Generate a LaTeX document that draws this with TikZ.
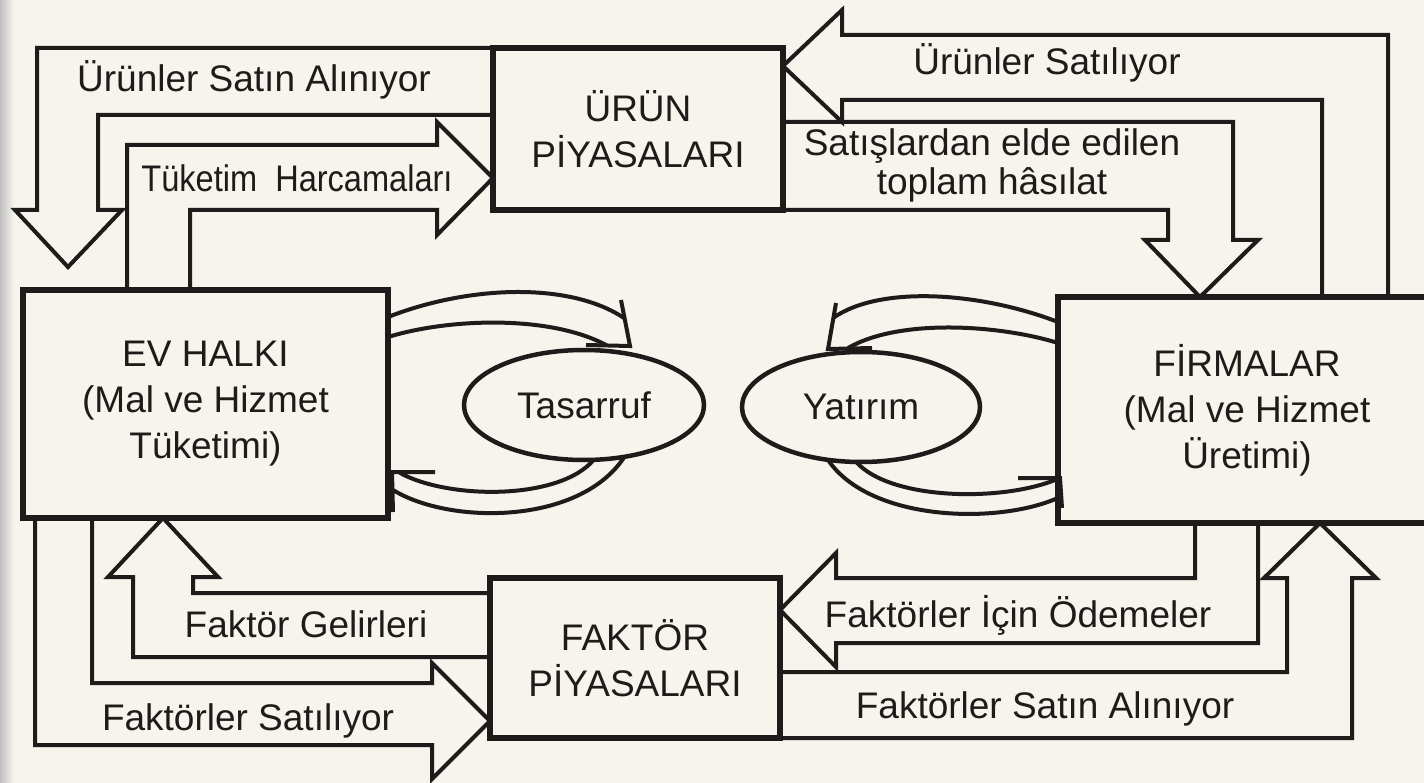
\documentclass[tikz,border=0pt]{standalone}
\usepackage{fontspec}
\setmainfont{Liberation Sans}
\usetikzlibrary{shapes.geometric}
\definecolor{paper}{RGB}{247,244,237}
\definecolor{ink}{RGB}{30,28,26}

\begin{document}
\begin{tikzpicture}[x=1pt,y=-1pt,
		box/.style={draw=ink,line width=5.5pt,outer sep=0pt,fill=paper,text=ink,align=center,font=\fontsize{37}{46}\selectfont},
		oval/.style={draw=ink,line width=4.5pt,outer sep=0pt,ellipse,inner sep=0pt,text=ink,font=\fontsize{37}{44}\selectfont},
		flow/.style={draw=ink,line width=4pt,line join=miter},
		lbl/.style={anchor=base,inner sep=0pt,text=ink,font=\fontsize{37}{44}\selectfont}]
	\useasboundingbox (0,0) rectangle (1424,783);
	\fill[paper] (0,0) rectangle (1424,783);
	\shade[left color=black!25,right color=paper] (0,0) rectangle (14,783);
	\clip (0,0) rectangle (1424,783);

	\node[box,minimum width=290pt,minimum height=162pt] (urun) at (638,129) {ÜRÜN\\PİYASALARI};
	\node[box,minimum width=365pt,minimum height=228pt] (ev) at (205.5,404) {EV HALKI\\(Mal ve Hizmet\\Tüketimi)};
	\node[box,minimum width=378pt,minimum height=226pt] (firma) at (1247,410) {FİRMALAR\\(Mal ve Hizmet\\Üretimi)};
	\node[box,minimum width=290pt,minimum height=160pt] (faktor) at (635,658) {FAKTÖR\\PİYASALARI};
	\node[oval,minimum width=240pt,minimum height=110pt] (tas) at (584,405) {Tasarruf};
	\node[oval,minimum width=238pt,minimum height=110pt] (yat) at (861,407) {Yatırım};

	\draw[flow] (urun.north west) -| (37,210) -- (15,210) -- (68,267) -- (122,210) -- (98,210) |- (urun.west |- 0,115);
	\draw[flow] (ev.north -| 127,0) |- (437,145) -- (437,122) -- (urun.west |- 0,178) -- (437,235) -- (437,210) -| (ev.north -| 190,0);
	\draw[flow] (firma.north -| 1388,0) |- (842,35) -- (842,10) -- (urun.east |- 0,66) -- (842,122) -- (842,100) -| (firma.north -| 1322,0);
	\draw[flow] (urun.east |- 0,122) -| (1233,240) -- (1258,240) -- (firma.north -| 1200,0) -- (1145,240) -- (1168,240) |- (urun.south east);
	\draw[flow] (faktor.west |- 0,593) -| (193,577) -- (218,577) -- (ev.south -| 163,0) -- (108,577) -- (133,577) |- (faktor.west |- 0,657);
	\draw[flow] (ev.south -| 92,0) |- (432,683) -- (432,663) -- (faktor.west |- 0,721) -- (432,779) -- (432,745) -| (ev.south -| 35,0);
	\draw[flow] (firma.south -| 1195,0) |- (836,578) -- (836,553) -- (faktor.east |- 0,610) -- (836,667) -- (836,643) -| (firma.south -| 1258,0);
	\draw[flow] (faktor.east |- 0,672) -| (1287,578) -- (1264,578) -- (firma.south -| 1320,0) -- (1376,578) -- (1352,578) |- (faktor.south east);

	\draw[flow] (ev.east |- 0,317) .. controls (470,285) and (570,282) .. (624,318);
	\draw[flow] (ev.east |- 0,337) .. controls (450,318) and (550,315) .. (606,345);
	\draw[flow] (586,345) -- (630,346) -- (621,300);
	\draw[flow] (tas.-80) .. controls (560,500) and (450,500) .. (400,473);
	\draw[flow] (tas.-52) .. controls (580,525) and (450,525) .. (393,490);
	\draw[flow] (435,472) -- (392,472) -- (393,512);

	\draw[flow] (firma.west |- 0,322) .. controls (980,292) and (880,285) .. (833,318);
	\draw[flow] (firma.west |- 0,343) .. controls (1000,325) and (900,318) .. (848,348);
	\draw[flow] (872,348) -- (828,349) -- (836,303);
	\draw[flow] (yat.-95) .. controls (890,500) and (1000,502) .. (1055,480);
	\draw[flow] (yat.-122) .. controls (870,522) and (1000,525) .. (1060,497);
	\draw[flow] (1018,478) -- (1060,478) -- (1062,508);

	\node[lbl] (t1) at (254,92) {Ürünler Satın Alınıyor};
	\node[lbl] (t2) at (297,192) {\scalebox{0.88}[1]{Tüketim\ \ Harcamaları}};
	\node[lbl] (t3) at (1047,75) {Ürünler Satılıyor};
	\node[lbl] (t4) at (992,156) {Satışlardan elde edilen};
	\node[lbl] (t5) at (992,195) {toplam hâsılat};
	\node[lbl] (t6) at (306,637) {Faktör Gelirleri};
	\node[lbl] (t7) at (248,730) {Faktörler Satılıyor};
	\node[lbl] (t8) at (1018,627) {Faktörler İçin Ödemeler};
	\node[lbl] (t9) at (1045,718) {Faktörler Satın Alınıyor};
\end{tikzpicture}
\end{document}
